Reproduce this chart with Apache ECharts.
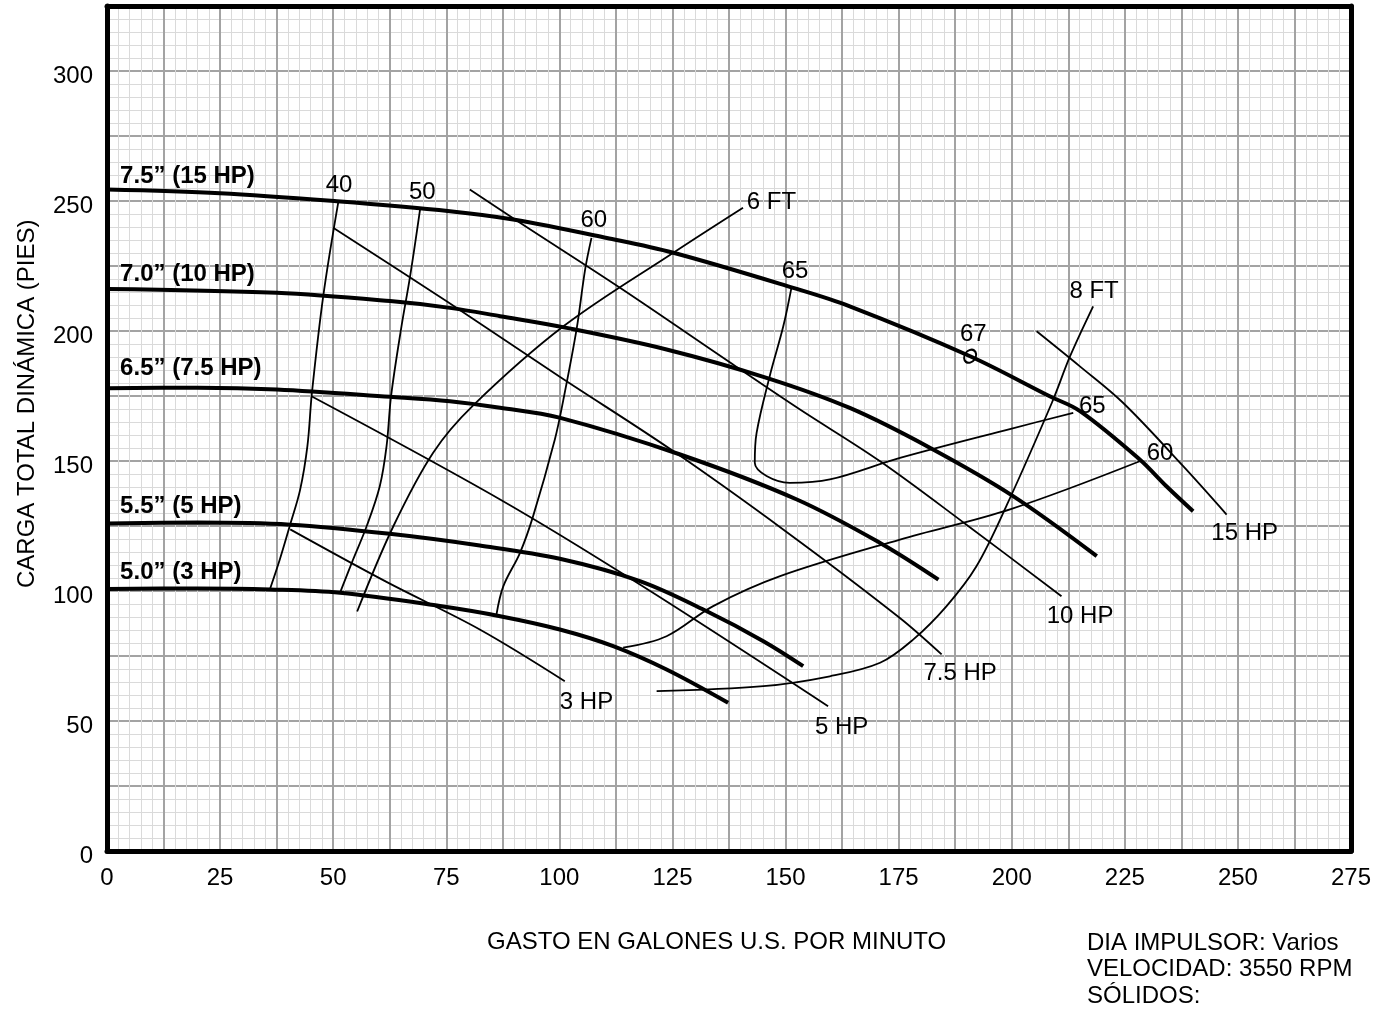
<!DOCTYPE html>
<html>
<head>
<meta charset="utf-8">
<title>Curva de bomba</title>
<script src="https://cdn.jsdelivr.net/npm/echarts@6/dist/echarts.min.js"></script>
<style>
  html, body { margin: 0; padding: 0; background: #fff; }
  #chart { width: 1385px; height: 1009px; }
</style>
</head>
<body>
<div id="chart"></div>
<script>
// ejes
var xMin = 0, xMax = 275, xStep = 12.5;
var yMin = 0, yMax = 325, yStep = 25;

// curvas de carga (diametro impulsor)
var head75 = [[0,254.4],[25,253],[50.8,249.9],[75.8,246.1],[89.8,242.9],[110.5,235.8],[125.2,230.1],[151.7,216.6],[164.2,209.5],[190.8,190.3],[208.4,174.9],[215.1,169.2],[228.3,150.6],[234.2,140.3],[240.1,130.7]];
var head70 = [[0,216.2],[37.5,214.7],[62.6,211.5],[75.8,208.9],[86.9,205.7],[101.6,201.2],[123.7,192.9],[145.8,182],[164.2,170.4],[181.9,155.1],[200.3,136.5],[218.8,113.4]];
var head65 = [[0,178],[20,178.2],[37.5,177.5],[62.6,174.7],[75.8,173],[86.9,170.5],[100,166.7],[126.7,152.5],[152.5,135.2],[170.9,118.5],[183.8,104.4]];
var head55 = [[0,126],[20,126.3],[40.5,125.5],[62.5,122],[82.4,117.5],[100.1,112.4],[117.8,103.8],[132.6,92.2],[145.1,80.7],[153.9,71.1]];
var head50 = [[0,100.8],[20,101],[36,100.6],[51.5,99.3],[73.6,94.2],[86.9,90.3],[100.1,85.2],[111.9,78.8],[123.7,69.8],[137.3,57]];

// eficiencias
var eff40 = [[36,100.6],[38.2,112.1],[40.5,125.6],[42.7,139],[44.3,155.7],[45.3,176.2],[47.8,213.4],[51.1,249.3]];
var eff50 = [[51.5,99.3],[54.4,112.1],[57.4,124.9],[60.3,140.3],[61.8,155.7],[62.8,175],[65.1,201.8],[67,221],[69.2,246.7]];
var eff60 = [[86.1,91],[87.6,101.8],[91.3,114.7],[94.2,128.8],[99,158.3],[100.9,173.7],[103.8,200.6],[105.7,223.7],[107.1,235.8]];
var eff65 = [[151.3,216.6],[149.5,201.8],[146.5,182.6],[143.6,160.8],[143.2,149.3],[145.8,144.2],[150.9,141.6],[159.8,142.9],[175.3,151.2],[199.8,162.4],[213.6,168.5]];
var eff60r = [[114.1,78.2],[123.7,82.6],[134,94.2],[148.8,105.7],[175.3,119.8],[199.8,131.5],[228.3,149.9]];
var eff67 = [[190.8,190.3]];

// potencia
var hp3 = [[40.5,123.7],[62,103.3],[82.4,85.2],[101.2,65.3]];
var hp5 = [[45.2,174.9],[86.9,135.2],[117.8,102.5],[159.4,55.7]];
var hp75 = [[50,239.7],[75,211.5],[100,182.5],[125,154],[150,123],[175,90],[184.5,75.6]];
var hp10 = [[80.2,254.4],[91.3,241.6],[113.4,216.6],[138.4,187.1],[153.2,169.8],[170.9,149.9],[190,125.5],[211,98]];
var hp15 = [[205.5,199.9],[215,186.5],[224.6,172.4],[237.9,148],[247.5,129.4]];

// NPSH
var npsh6 = [[55.3,92.1],[63.3,124.9],[72.1,153.2],[80.9,171.3],[100.9,201.8],[125.2,230.1],[140.6,247.4]];
var npsh8 = [[121.5,61.5],[145.1,63.4],[159.8,67.2],[170.9,72.4],[178.2,81.3],[185.6,94.2],[192.2,109.5],[198.9,133],[208.9,172.5],[212.9,190.3],[218,209.5]];

// textos sobre la grafica
var headNames = ['7.5\u201d (15 HP)', '7.0\u201d (10 HP)', '6.5\u201d (7.5 HP)', '5.5\u201d (5 HP)', '5.0\u201d (3 HP)'];
var headNamePos = [[2.9,259.4],[2.9,221.7],[2.9,185.6],[2.9,132.6],[2.9,107.3]];
var curveNames = ['40','50','60','65','67','65','60','6 FT','8 FT','3 HP','5 HP','7.5 HP','10 HP','15 HP'];
var curveNamePos = [[51.3,256],[69.7,253.2],[107.6,242.5],[152.1,223],[191.5,198.6],[217.8,171.2],[232.8,152.9],[146.9,249.6],[218.2,215.3],[106,57.3],[162.4,47.7],[188.6,68.3],[215.1,90.3],[251.5,122.1]];

var FONT = '"Liberation Sans", Arial, Helvetica, sans-serif';

var chart = echarts.init(document.getElementById('chart'));

function curve(data, width){
    return {
        type: 'line',
        data: data,
        smooth: 0.35,
        showSymbol: false,
        silent: true,
        lineStyle: { color: '#000', width: width },
        z: 3
    };
}

// textos como scatter invisible (scatter trae opacity 0.8, se pone a 1)
function labelSeries(names, pos, bold, align){
    var data = [];
    for (var i = 0; i < names.length; i++) {
        data.push({ name: names[i], value: pos[i] });
    }
    return {
        type: 'scatter',
        data: data,
        symbolSize: 0,
        silent: true,
        z: 5,
        itemStyle: { color: '#000', opacity: 1 },
        label: {
            show: true,
            position: 'inside',
            formatter: '{b}',
            align: align,
            verticalAlign: 'middle',
            color: '#000',
            opacity: 1,
            textBorderWidth: 0,
            fontSize: 24,
            fontWeight: bold ? 'bold' : 'normal',
            fontFamily: FONT
        }
    };
}

var series = [];
var heads = [head75, head70, head65, head55, head50];
for (var h in heads) series.push(curve(heads[h], 4));
var thin = [eff40, eff50, eff60, eff65, eff60r, hp3, hp5, hp75, hp10, hp15, npsh6, npsh8];
for (var t in thin) series.push(curve(thin[t], 1.8));
series.push({
    type: 'scatter',
    data: eff67,
    symbol: 'circle',
    symbolSize: [11, 14],
    symbolRotate: -35,
    silent: true,
    itemStyle: { color: 'rgba(0,0,0,0)', borderColor: '#000', borderWidth: 2, opacity: 1 },
    z: 4
});
series.push(labelSeries(headNames, headNamePos, true, 'left'));
series.push(labelSeries(curveNames, curveNamePos, false, 'center'));

var option = {
    animation: false,
    backgroundColor: '#fff',
    grid: { left: 107, right: 34, top: 6, bottom: 158, containLabel: false },
    xAxis: [{
        type: 'value', min: xMin, max: xMax, interval: xStep,
        axisLine: { show: true, onZero: false, lineStyle: { color: '#000', width: 5 } },
        axisTick: { show: false },
        axisLabel: {
            margin: 15, fontSize: 24, color: '#000', fontFamily: FONT,
            formatter: function (v) { return v % 25 === 0 ? String(v) : ''; }
        },
        splitLine: { show: true, lineStyle: { color: '#a3a3a3', width: 2 } },
        minorTick: { show: false, splitNumber: 5 },
        minorSplitLine: { show: true, lineStyle: { color: '#dadada', width: 1 } }
    }, {
        type: 'value', position: 'top', min: xMin, max: xMax,
        axisLine: { show: true, onZero: false, lineStyle: { color: '#000', width: 5 } },
        axisTick: { show: false }, axisLabel: { show: false }, splitLine: { show: false }
    }],
    yAxis: [{
        type: 'value', min: yMin, max: yMax, interval: yStep,
        axisLine: { show: true, onZero: false, lineStyle: { color: '#000', width: 5 } },
        axisTick: { show: false },
        axisLabel: {
            margin: 14, color: '#000',
            // etiquetas un poco mas abajo que la linea
            formatter: function (v) { return v % 50 === 0 ? '{t|' + v + '}' : ''; },
            rich: { t: { fontSize: 24, fontFamily: FONT, color: '#000', padding: [10, 0, 0, 0] } }
        },
        splitLine: { show: true, lineStyle: { color: '#a3a3a3', width: 2 } },
        minorTick: { show: false, splitNumber: 5 },
        minorSplitLine: { show: true, lineStyle: { color: '#dadada', width: 1 } }
    }, {
        type: 'value', position: 'right', min: yMin, max: yMax,
        axisLine: { show: true, onZero: false, lineStyle: { color: '#000', width: 5 } },
        axisTick: { show: false }, axisLabel: { show: false }, splitLine: { show: false }
    }],
    graphic: [{
        type: 'text', left: 487, top: 930,
        style: { text: 'GASTO EN GALONES U.S. POR MINUTO', font: '24px ' + FONT, fill: '#000' }
    }, {
        type: 'text', left: 1087, top: 930,
        style: { text: 'DIA IMPULSOR: Varios\nVELOCIDAD: 3550 RPM\nS\u00d3LIDOS:', font: '24px ' + FONT, fill: '#000', lineHeight: 26.5 }
    }, {
        type: 'text', x: 15, y: 588, rotation: Math.PI / 2,
        style: { text: 'CARGA TOTAL DIN\u00c1MICA (PIES)', font: '24px ' + FONT, fill: '#000' }
    }],
    series: series
};

chart.setOption(option);
</script>
</body>
</html>
